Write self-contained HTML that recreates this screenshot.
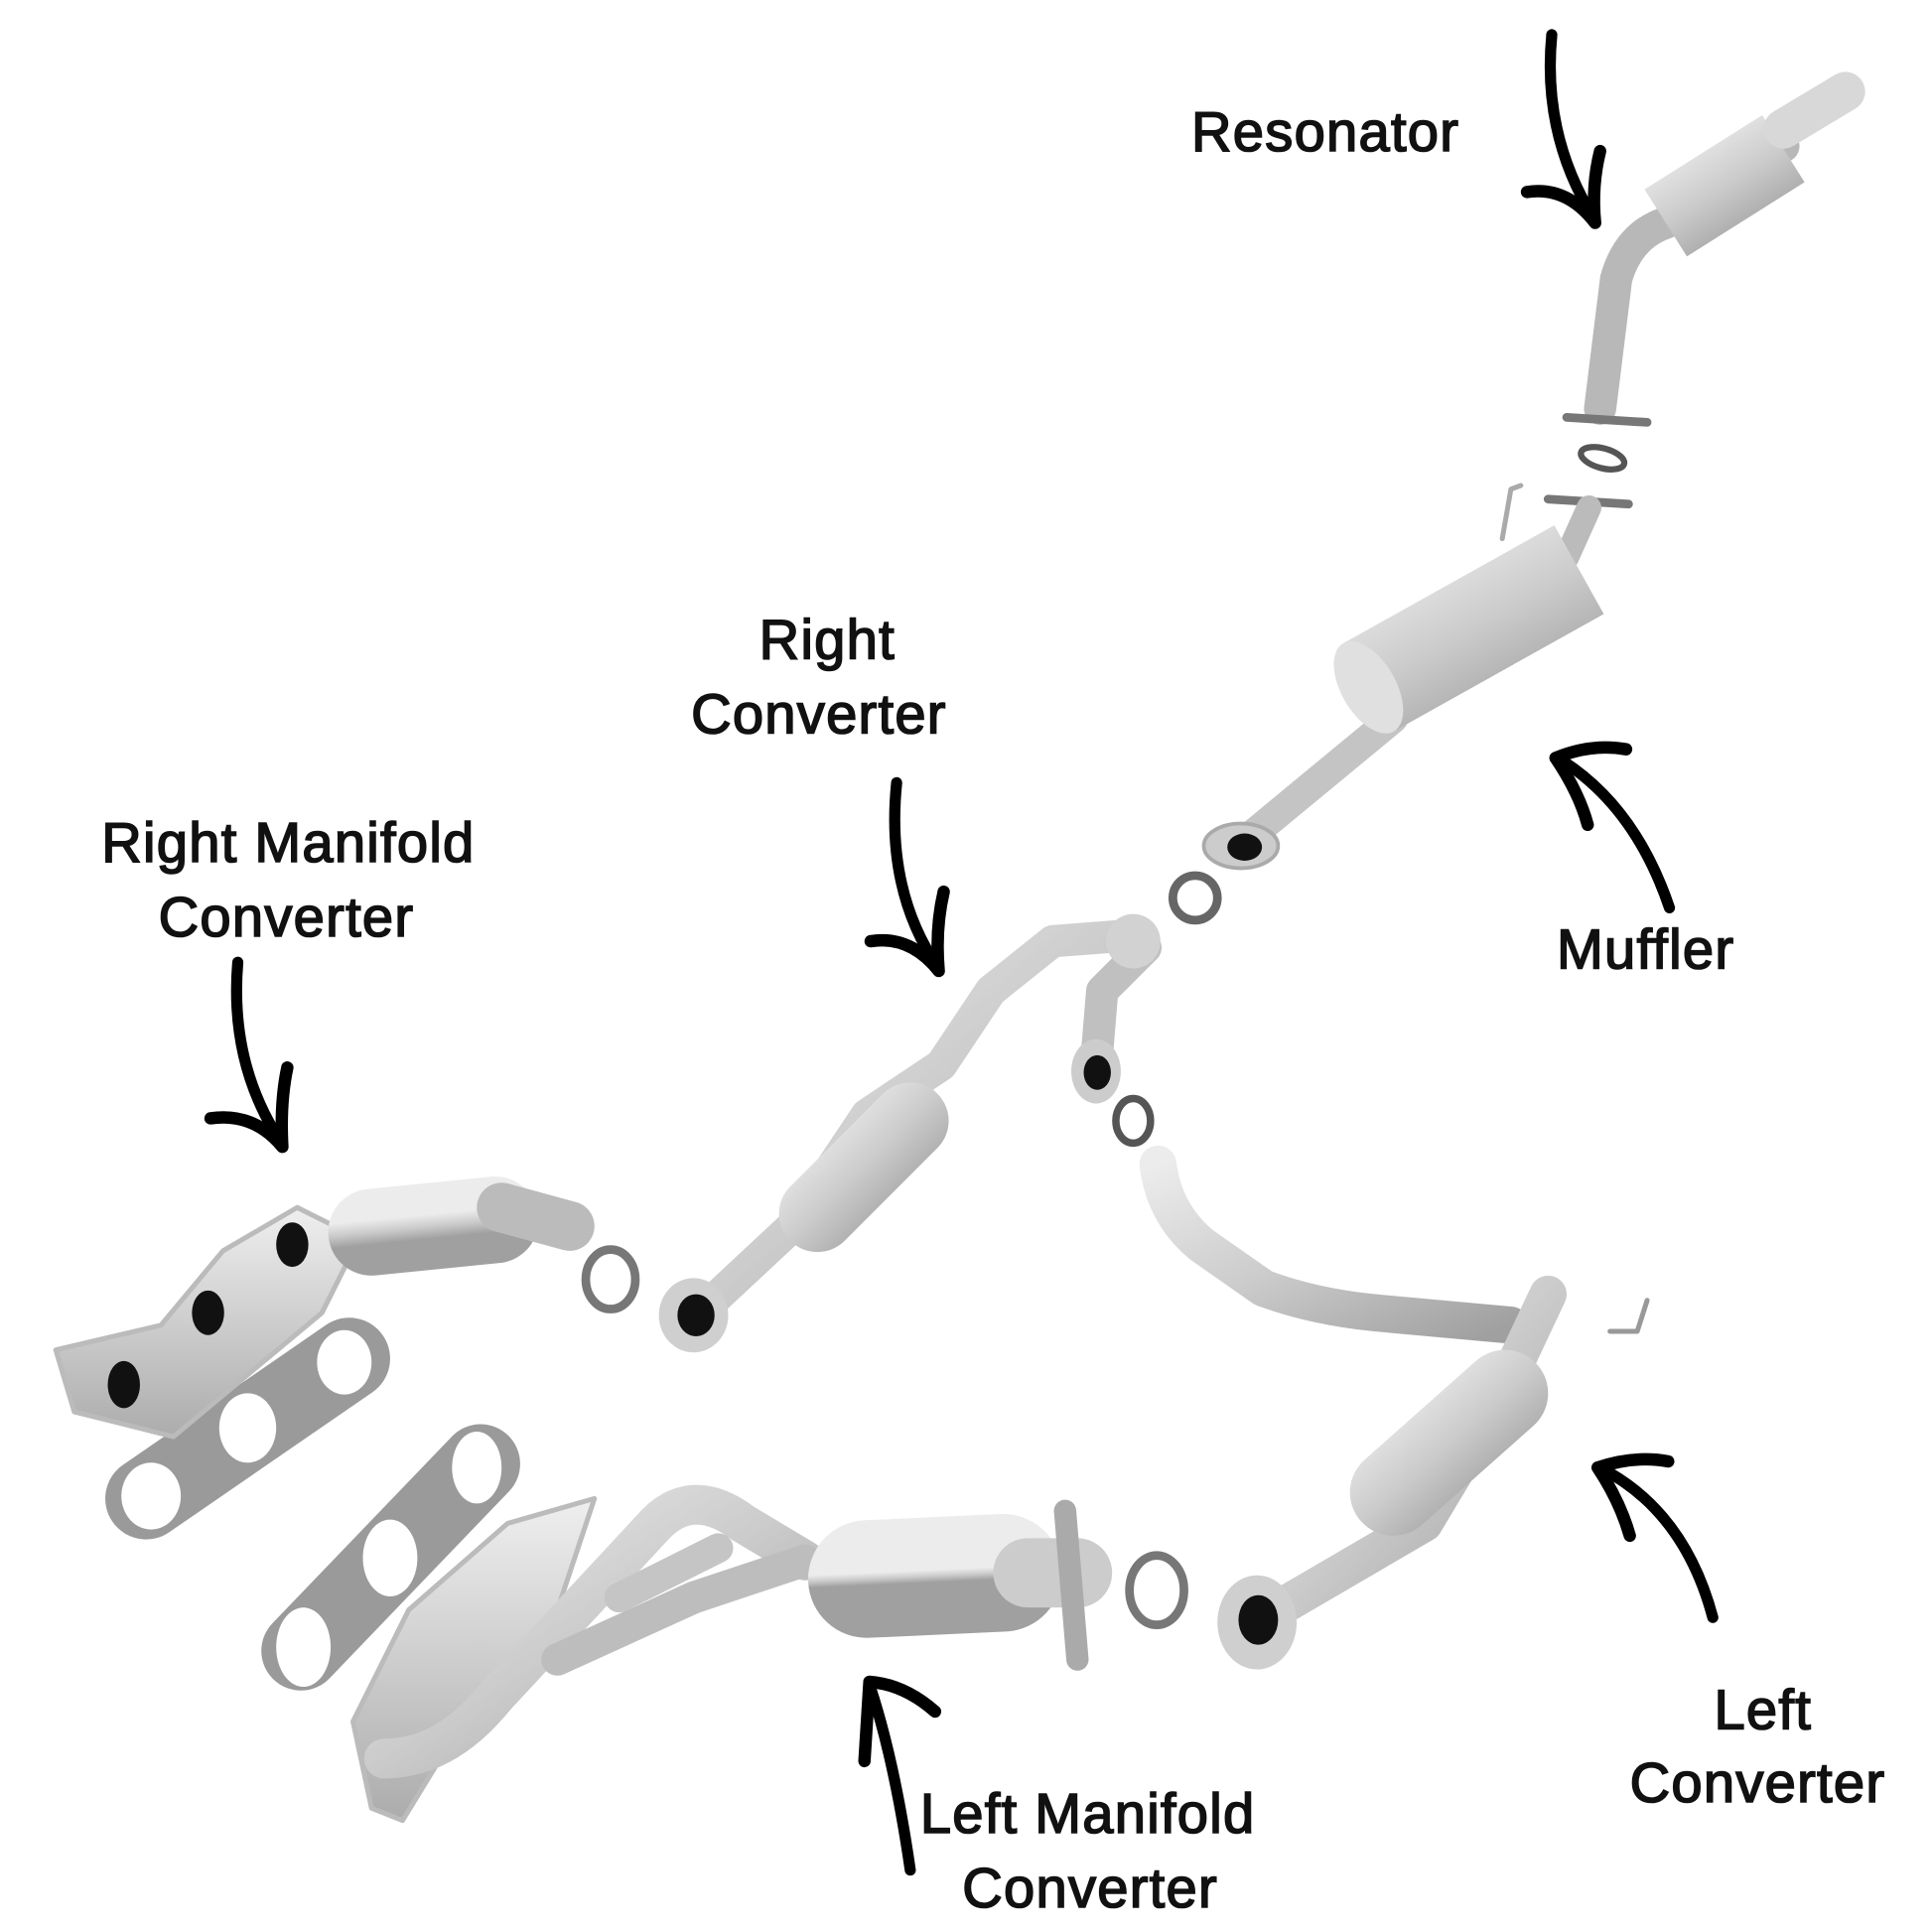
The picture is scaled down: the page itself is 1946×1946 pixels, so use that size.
<!DOCTYPE html>
<html><head><meta charset="utf-8"><style>
html,body{margin:0;padding:0;background:#fff}
svg{display:block}
text{font-family:"Liberation Sans",sans-serif;font-size:45px;fill:#111;stroke:#111;stroke-width:1.3;letter-spacing:1px}
</style></head><body>
<svg width="1946" height="1946" viewBox="0 0 1560 1560" xmlns="http://www.w3.org/2000/svg">
<defs>
<linearGradient id="m" x1="0" y1="0" x2="1" y2="1">
<stop offset="0" stop-color="#ececec"/><stop offset="0.5" stop-color="#cbcbcb"/><stop offset="1" stop-color="#a0a0a0"/>
</linearGradient>
<linearGradient id="m2" x1="0" y1="0" x2="0" y2="1">
<stop offset="0" stop-color="#efefef"/><stop offset="1" stop-color="#acacac"/>
</linearGradient>
</defs>
<rect width="1560" height="1560" fill="#fff"/>

<g fill="none" stroke-linecap="round" stroke-linejoin="round">
<!-- Resonator assembly -->
<path d="M1292 330 L1305 225 Q1315 190 1345 180 L1440 118" stroke="#b8b8b8" stroke-width="26"/>
<path d="M1345 180 L1440 120" stroke="url(#m)" stroke-width="64" stroke-linecap="butt"/>
<path d="M1440 104 L1490 74" stroke="#d8d8d8" stroke-width="32"/>
<path d="M1265 337 L1330 341" stroke="#777" stroke-width="7"/>
<ellipse cx="1294" cy="370" rx="18" ry="8" stroke="#555" stroke-width="5" transform="rotate(15 1294 370)"/>
<path d="M1250 403 L1315 407" stroke="#777" stroke-width="7"/>
<path d="M1283 410 L1265 450" stroke="#bbb" stroke-width="20"/>
<path d="M1213 435 L1220 395 L1228 392" stroke="#aaa" stroke-width="4"/>
<!-- Muffler -->
<path d="M1010 675 L1125 580" stroke="#c4c4c4" stroke-width="24"/>
<path d="M1105 555 L1275 460" stroke="url(#m)" stroke-width="82" stroke-linecap="butt"/>
<ellipse cx="1105" cy="555" rx="22" ry="41" fill="#e0e0e0" transform="rotate(-30 1105 555)"/>
<ellipse cx="1002" cy="683" rx="30" ry="18" fill="#ccc" stroke="#aaa" stroke-width="3"/>
<ellipse cx="1005" cy="684" rx="14" ry="11" fill="#111"/>
<ellipse cx="965" cy="725" rx="18" ry="18" stroke="#666" stroke-width="7"/>
<!-- Right converter Y pipe -->
<path d="M565 1060 L640 990 L700 900 L760 860 L800 800 L850 760 L915 755" stroke="url(#m)" stroke-width="26"/>
<path d="M660 980 L735 905" stroke="url(#m)" stroke-width="62"/>
<path d="M885 860 L890 800 L925 765" stroke="#c0c0c0" stroke-width="26"/>
<ellipse cx="885" cy="865" rx="20" ry="26" fill="#ccc"/><ellipse cx="886" cy="866" rx="11" ry="14" fill="#111"/>
<ellipse cx="915" cy="760" rx="22" ry="22" fill="#d2d2d2"/>
<ellipse cx="915" cy="905" rx="14" ry="18" stroke="#555" stroke-width="6"/>
<ellipse cx="560" cy="1062" rx="28" ry="30" fill="#cfcfcf"/><ellipse cx="562" cy="1062" rx="15" ry="17" fill="#111"/>
<ellipse cx="493" cy="1033" rx="20" ry="24" stroke="#777" stroke-width="7"/>
<!-- Left converter -->
<path d="M935 940 Q940 980 970 1005 L1020 1040 Q1060 1055 1110 1060 L1220 1070" stroke="url(#m)" stroke-width="30"/>
<path d="M1250 1045 L1210 1130 L1150 1230 L1030 1300" stroke="url(#m)" stroke-width="30"/>
<path d="M1125 1205 L1215 1125" stroke="url(#m)" stroke-width="70"/>
<path d="M1300 1075 L1322 1075 L1330 1050" stroke="#999" stroke-width="4"/>
<ellipse cx="1015" cy="1310" rx="32" ry="38" fill="#cfcfcf"/><ellipse cx="1016" cy="1308" rx="16" ry="20" fill="#111"/>
<ellipse cx="934" cy="1284" rx="22" ry="28" stroke="#777" stroke-width="7"/>
<!-- gaskets -->
<path d="M118 1210 L282 1097" stroke="#9a9a9a" stroke-width="66"/>
<path d="M243 1333 L388 1182" stroke="#9a9a9a" stroke-width="64"/>
<g fill="#fff" stroke="none">
<ellipse cx="122" cy="1208" rx="24" ry="27"/><ellipse cx="200" cy="1153" rx="23" ry="28"/><ellipse cx="278" cy="1100" rx="22" ry="26"/>
<ellipse cx="245" cy="1330" rx="22" ry="32"/><ellipse cx="315" cy="1258" rx="22" ry="31"/><ellipse cx="385" cy="1185" rx="20" ry="29"/>
</g>
<!-- Right manifold converter -->
<path d="M45 1090 L130 1070 L180 1010 L240 975 L290 1000 L260 1060 L200 1110 L140 1160 L60 1140 Z" fill="url(#m2)" stroke="#bbb" stroke-width="4"/>
<ellipse cx="100" cy="1118" rx="13" ry="19" fill="#111"/><ellipse cx="168" cy="1060" rx="13" ry="18" fill="#111"/><ellipse cx="236" cy="1005" rx="13" ry="18" fill="#111"/>
<path d="M300 995 L400 985" stroke="url(#m)" stroke-width="70"/>
<path d="M405 975 L460 990" stroke="#bbb" stroke-width="40"/>
<!-- Left manifold -->
<path d="M300 1460 L285 1390 L330 1300 L410 1230 L480 1210 L450 1300 L380 1380 L325 1470 Z" fill="url(#m2)" stroke="#bbb" stroke-width="4"/>
<path d="M310 1420 Q360 1420 400 1370 L530 1230 Q560 1200 600 1230 L650 1260" stroke="url(#m)" stroke-width="32"/>
<path d="M450 1340 L560 1290 L650 1260" stroke="#bdbdbd" stroke-width="26"/>
<path d="M500 1290 L580 1250" stroke="#c5c5c5" stroke-width="24"/>
<path d="M700 1275 L810 1270" stroke="url(#m)" stroke-width="95"/>
<path d="M830 1270 L870 1270" stroke="#ccc" stroke-width="56"/>
<path d="M860 1220 L870 1340" stroke="#aaa" stroke-width="18"/>
</g>

<!-- Arrows -->
<g fill="none" stroke="#000" stroke-linecap="round" stroke-linejoin="round">
<path d="M1253 28 Q1245 110 1288 178" stroke-width="9"/>
<path d="M1233 155 Q1265 150 1288 180 Q1285 150 1292 122" stroke-width="10"/>
<path d="M724 632 Q715 720 758 782" stroke-width="9"/>
<path d="M703 760 Q735 755 758 784 Q755 750 762 720" stroke-width="10"/>
<path d="M192 777 Q185 860 228 924" stroke-width="9"/>
<path d="M170 903 Q205 898 228 926 Q226 890 232 862" stroke-width="10"/>
<path d="M1348 733 Q1320 650 1258 612" stroke-width="9"/>
<path d="M1313 605 Q1285 600 1256 612 Q1275 640 1282 666" stroke-width="10"/>
<path d="M1383 1306 Q1360 1220 1292 1185" stroke-width="9"/>
<path d="M1347 1180 Q1320 1175 1290 1185 Q1308 1212 1316 1240" stroke-width="10"/>
<path d="M735 1510 Q722 1420 702 1360" stroke-width="9"/>
<path d="M755 1382 Q730 1360 702 1358 Q700 1390 698 1422" stroke-width="10"/>
</g>

<!-- Labels -->
<text x="962" y="122">Resonator</text>
<text x="613" y="532">Right</text>
<text x="558" y="592">Converter</text>
<text x="82" y="696">Right Manifold</text>
<text x="128" y="756">Converter</text>
<text x="1257" y="782">Muffler</text>
<text x="1384" y="1396">Left</text>
<text x="1316" y="1455">Converter</text>
<text x="743" y="1480">Left Manifold</text>
<text x="777" y="1540">Converter</text>
</svg>
</body></html>
